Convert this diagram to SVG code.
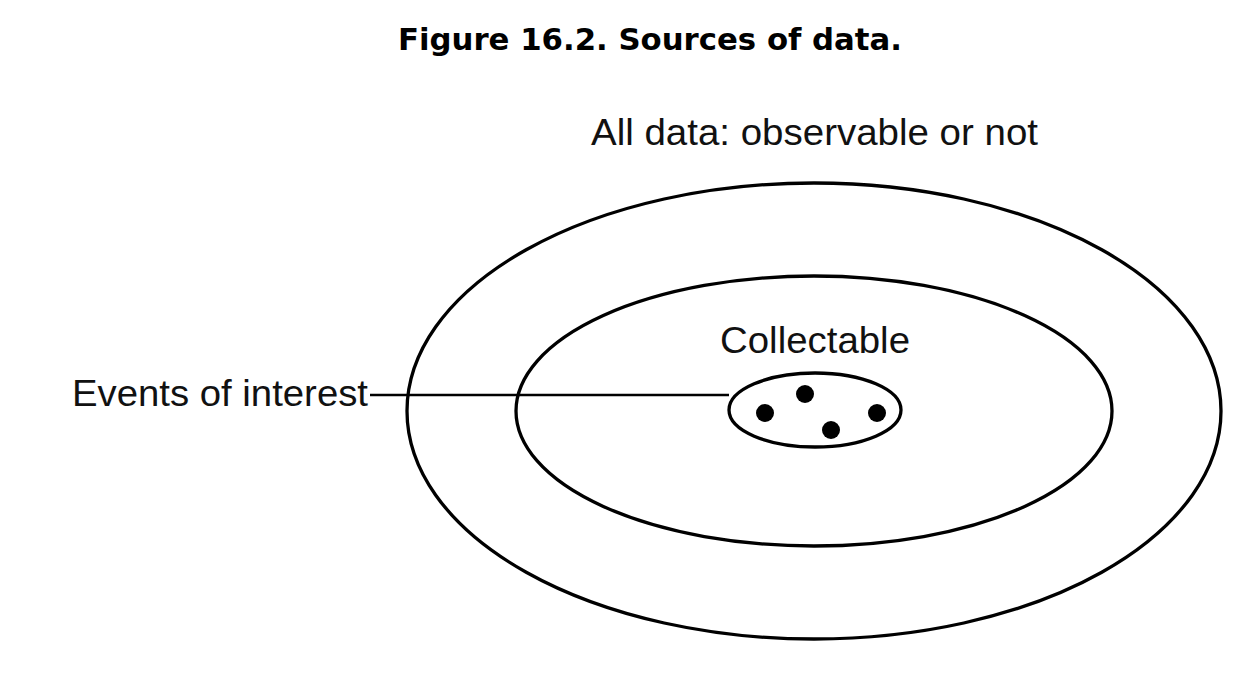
<svg xmlns="http://www.w3.org/2000/svg" width="1246" height="676" viewBox="0 0 1246 676">
<style>
.ring{fill:none;stroke:#000;stroke-width:3.3}
.lbl{font-family:"Liberation Sans",Arial,sans-serif;font-size:36.5px;fill:#111}
.title{font-family:"DejaVu Sans",Verdana,sans-serif;font-weight:bold;font-size:30px;fill:#000}
.dot{fill:#000}
</style>
<rect width="1246" height="676" fill="#fff"/>
<text class="title" x="398" y="50" textLength="504" lengthAdjust="spacingAndGlyphs">Figure 16.2. Sources of data.</text>
<g id="all-data">
<ellipse class="ring" cx="814" cy="411" rx="407" ry="228"/>
<text class="lbl" x="591" y="145" textLength="447" lengthAdjust="spacingAndGlyphs">All data: observable or not</text>
</g>
<g id="collectable">
<ellipse class="ring" cx="814" cy="411" rx="298" ry="135"/>
<text class="lbl" x="720" y="353" textLength="190" lengthAdjust="spacingAndGlyphs">Collectable</text>
</g>
<g id="events">
<ellipse class="ring" cx="815" cy="410" rx="86" ry="37"/>
<circle class="dot" cx="765" cy="413" r="9"/>
<circle class="dot" cx="805" cy="394" r="9"/>
<circle class="dot" cx="831" cy="430" r="9"/>
<circle class="dot" cx="877" cy="413" r="9"/>
</g>
<g id="events-label">
<text class="lbl" x="72" y="406" textLength="296" lengthAdjust="spacingAndGlyphs">Events of interest</text>
</g>
<g id="connectors">
<line x1="370" y1="395" x2="729" y2="395" stroke="#000" stroke-width="2.7"/>
</g>
</svg>
